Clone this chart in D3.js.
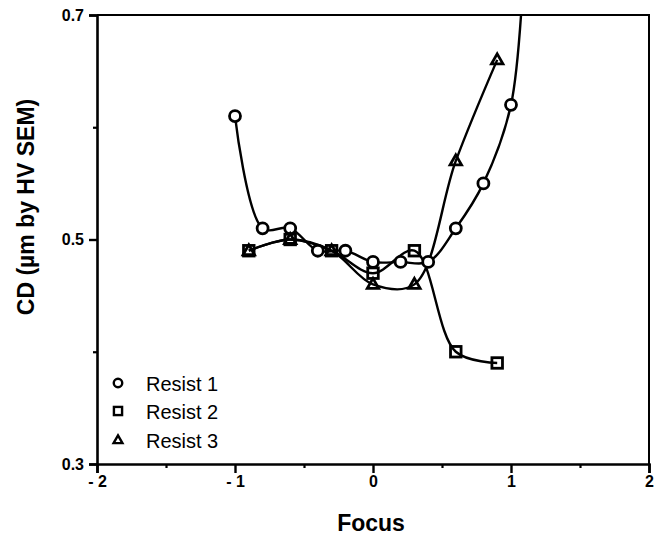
<!DOCTYPE html>
<html>
<head>
<meta charset="utf-8">
<script src="https://cdn.jsdelivr.net/npm/d3@7"></script>
<style>
  html, body { margin: 0; padding: 0; background: #fff; }
  svg { display: block; }
  text { font-family: "Liberation Sans", Arial, Helvetica, sans-serif; fill: #000; }
</style>
</head>
<body>
<svg id="chart" width="657" height="535"></svg>
<script>
// Focus settings and CD readings for each resist
const resist1Focus = [-1.0, -0.8, -0.6, -0.4, -0.2, 0.0, 0.2, 0.4, 0.6, 0.8, 1.0, 1.1];
// the last Resist 1 reading lies above the 0.7 frame; its curve is clipped there
const resist1CD = [0.61, 0.51, 0.51, 0.49, 0.49, 0.48, 0.48, 0.48, 0.51, 0.55, 0.62, 0.76];

const resist2Focus = [-0.9, -0.6, -0.3, 0.0, 0.3, 0.6, 0.9];
const resist2CD = [0.49, 0.50, 0.49, 0.47, 0.49, 0.40, 0.39];

const resist3Focus = [-0.9, -0.6, -0.3, 0.0, 0.3, 0.6, 0.9];
const resist3CD = [0.49, 0.50, 0.49, 0.46, 0.46, 0.57, 0.66];

const seriesNames = ["Resist 1", "Resist 2", "Resist 3"];
const seriesShapes = ["circle", "square", "triangle"];

const xTickValues = [-2, -1, 0, 1, 2];
const xTickLabels = ["- 2", "- 1", "0", "1", "2"];
const xMinorTicks = [-1.5, -0.5, 0.5, 1.5];
const yTickValues = [0.3, 0.5, 0.7];
const yTickLabels = ["0.3", "0.5", "0.7"];
const yMinorTicks = [0.4, 0.6];

const xTitle = "Focus";
const yTitle = "CD (\u00b5m by HV SEM)";

(function draw() {
  // plot frame
  const m = { left: 97, right: 649, top: 15, bottom: 464 };

  const svg = d3.select("#chart");
  const x = d3.scaleLinear().domain([-2, 2]).range([m.left, m.right]);
  const y = d3.scaleLinear().domain([0.3, 0.7]).range([m.bottom, m.top]);

  const series = [
    { name: seriesNames[0], shape: seriesShapes[0], pts: resist1Focus.map((f, i) => [f, resist1CD[i]]) },
    { name: seriesNames[1], shape: seriesShapes[1], pts: resist2Focus.map((f, i) => [f, resist2CD[i]]) },
    { name: seriesNames[2], shape: seriesShapes[2], pts: resist3Focus.map((f, i) => [f, resist3CD[i]]) }
  ];

  svg.append("defs").append("clipPath").attr("id", "plotClip")
    .append("rect").attr("x", m.left).attr("y", m.top)
    .attr("width", m.right - m.left).attr("height", m.bottom - m.top);

  // top and right edges of the frame
  svg.append("path")
    .attr("d", `M${m.left},${m.top}H${m.right}V${m.bottom}`)
    .attr("fill", "none").attr("stroke", "#000").attr("stroke-width", 2);

  function styleTickText(g) {
    g.selectAll(".tick text")
      .style("font-family", "'Liberation Sans', Arial, sans-serif")
      .style("font-size", "16px")
      .style("font-weight", "700")
      .style("fill", "#000");
  }

  // x axis
  const xAxis = d3.axisBottom(x)
    .tickValues(xTickValues)
    .tickFormat((d, i) => xTickLabels[i])
    .tickSize(9).tickPadding(3);
  const gx = svg.append("g").attr("transform", `translate(0,${m.bottom})`).call(xAxis);
  gx.select(".domain").attr("stroke-width", 2.6);
  gx.selectAll(".tick line").attr("stroke-width", 2.4);
  styleTickText(gx);
  const gxMinor = svg.append("g").attr("transform", `translate(0,${m.bottom})`)
    .call(d3.axisBottom(x).tickValues(xMinorTicks).tickSize(4).tickFormat(""));
  gxMinor.select(".domain").remove();
  gxMinor.selectAll(".tick line").attr("stroke-width", 2.2);

  // y axis
  const yAxis = d3.axisLeft(y)
    .tickValues(yTickValues)
    .tickFormat((d, i) => yTickLabels[i])
    .tickSize(8).tickPadding(5);
  const gy = svg.append("g").attr("transform", `translate(${m.left},0)`).call(yAxis);
  gy.select(".domain").attr("stroke-width", 2.6);
  gy.selectAll(".tick line").attr("stroke-width", 2.4);
  styleTickText(gy);
  const gyMinor = svg.append("g").attr("transform", `translate(${m.left},0)`)
    .call(d3.axisLeft(y).tickValues(yMinorTicks).tickSize(4).tickFormat(""));
  gyMinor.select(".domain").remove();
  gyMinor.selectAll(".tick line").attr("stroke-width", 2.2);

  // axis titles
  svg.append("text")
    .attr("x", (m.left + m.right) / 2 - 2).attr("y", 531)
    .attr("text-anchor", "middle").style("font-size", "23px").style("font-weight", "bold")
    .text(xTitle);
  svg.append("text")
    .attr("transform", "translate(34,207) rotate(-90)")
    .attr("text-anchor", "middle").style("font-size", "23px").style("font-weight", "bold")
    .text(yTitle);

  // smooth curves through the readings
  const line = d3.line()
    .x(d => x(d[0])).y(d => y(d[1]))
    .curve(d3.curveCatmullRom.alpha(0.5));

  const plot = svg.append("g").attr("clip-path", "url(#plotClip)");
  series.forEach(s => {
    plot.append("path")
      .attr("d", line(s.pts))
      .attr("fill", "none").attr("stroke", "#000").attr("stroke-width", 2.4);
  });

  // marker shapes
  function marker(g, shape, cx, cy, size) {
    if (shape === "circle") {
      return g.append("circle").attr("cx", cx).attr("cy", cy).attr("r", size * 0.5);
    }
    if (shape === "square") {
      const h = size * 0.48;
      return g.append("rect").attr("x", cx - h).attr("y", cy - h)
        .attr("width", 2 * h).attr("height", 2 * h);
    }
    const h = size * 0.52;
    return g.append("path")
      .attr("d", `M${cx},${cy - h * 1.05}L${cx + h},${cy + h * 0.7}L${cx - h},${cy + h * 0.7}Z`);
  }

  const markers = svg.append("g");
  series.forEach(s => {
    s.pts.filter(p => p[1] <= 0.7).forEach(p => {
      marker(markers, s.shape, x(p[0]), y(p[1]), 11)
        .attr("fill", "#fff").attr("fill-opacity", s.shape === "circle" ? 1 : 0)
        .attr("stroke", "#000").attr("stroke-width", 2.8);
    });
  });

  // legend
  const legendRows = [383, 411, 440];
  series.forEach((s, i) => {
    marker(svg, s.shape, 118, legendRows[i], 8.5)
      .attr("fill", "none").attr("stroke", "#000").attr("stroke-width", 2.4);
    svg.append("text")
      .attr("x", 146).attr("y", legendRows[i] + 8)
      .style("font-size", "20px")
      .text(s.name);
  });
})();
</script>
</body>
</html>
